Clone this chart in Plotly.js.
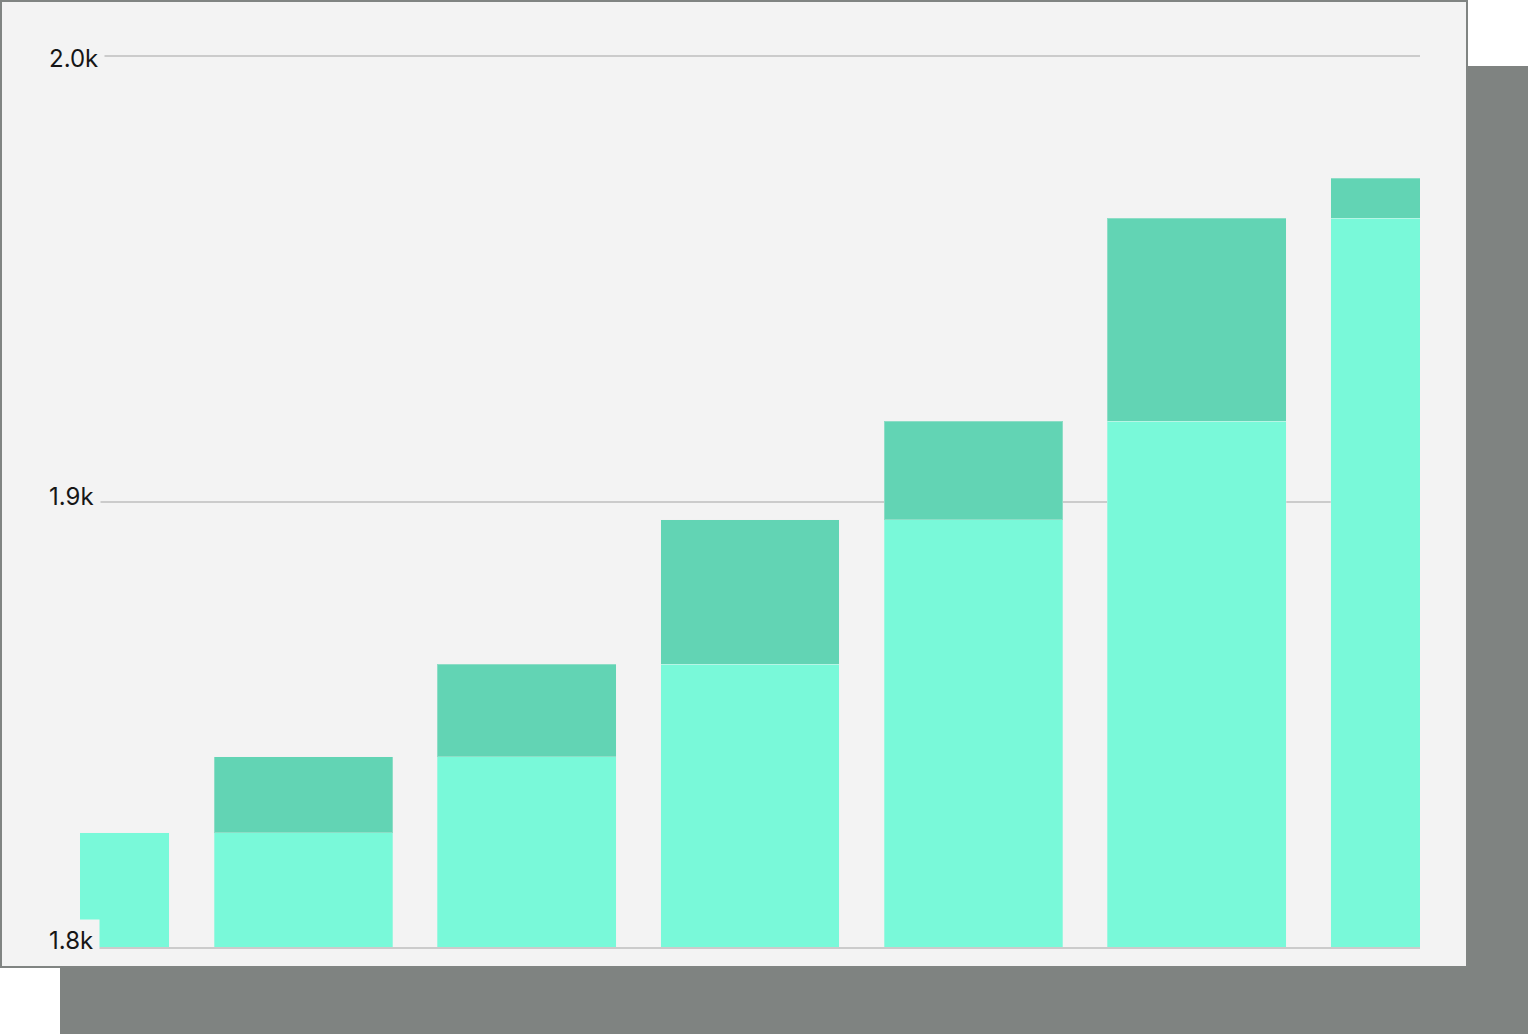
<!DOCTYPE html>
<html>
<head>
<meta charset="utf-8">
<script src="https://cdn.plot.ly/plotly-3.0.1.min.js"></script>
<style>
  html, body { margin: 0; padding: 0; background: #ffffff; }
  #panel {
    position: absolute; left: 0; top: 0;
    width: 1464px; height: 964px;
    border: 2px solid #808482;
    background: #F3F3F3;
    box-shadow: 60px 66px 0 0 #7F8381;
  }
  #chart { width: 1464px; height: 964px; }
</style>
</head>
<body>
<div id="panel"><div id="chart"></div></div>
<script>
(function () {
  'use strict';

  /* ── Data ── */
  var categories = [0, 1, 2, 3, 4, 5, 6];
  var baseValues = [1825.7, 1825.7, 1842.7, 1863.5, 1896.0, 1918.1, 1963.7];
  var stepValues = [0, 17.0, 20.8, 32.5, 22.1, 45.6, 9.0];
  var tickValues = [1800, 1900, 2000];
  var tickLabels = ['1.8k', '1.9k', '2.0k'];

  var C = {
    base: '#79F9D9',
    step: '#62D4B4',
    edge: 'rgba(243,243,243,0.3)',
    grid: '#CBCBCB',
    bg:   '#F3F3F3',
    text: '#161616',
  };

  var traces = [
    {
      type: 'bar', x: categories, y: baseValues,
      marker: { color: C.base, line: { width: 1, color: C.edge } },
      hoverinfo: 'y', showlegend: false,
    },
    {
      type: 'bar', x: categories, y: stepValues,
      marker: { color: C.step, line: { width: 1, color: C.edge } },
      hoverinfo: 'y', showlegend: false,
    },
  ];

  /* Tick labels sit on the plot with a panel-coloured box behind them */
  var yShifts = [7, 5, -2];
  var ann = tickValues.map(function (v, i) {
    return {
      xref: 'paper', yref: 'y', x: 0, y: v,
      xanchor: 'left', yanchor: 'middle',
      xshift: -38, yshift: yShifts[i],
      text: tickLabels[i], showarrow: false,
      bgcolor: C.bg, borderpad: 6,
      font: { family: 'Inter, "Open Sans", sans-serif', size: 24, color: C.text },
    };
  });

  var layout = {
    width: 1464, height: 964,
    margin: { l: 78, r: 46, t: 50, b: 19, pad: 0 },
    barmode: 'stack',
    bargap: 0.2,
    paper_bgcolor: C.bg,
    plot_bgcolor: C.bg,
    showlegend: false,
    xaxis: {
      type: 'linear',
      range: [0, 6],
      showticklabels: false, ticks: '',
      showgrid: false, zeroline: false,
      showline: true, linecolor: C.grid, linewidth: 2,
      fixedrange: true,
    },
    yaxis: {
      range: [1800, 2001],
      tickvals: tickValues,
      showticklabels: false, ticks: '',
      showgrid: true, gridcolor: C.grid, gridwidth: 2,
      zeroline: false, showline: false,
      fixedrange: true,
    },
    annotations: ann,
    font: { family: 'Inter, "Open Sans", sans-serif' },
  };

  Plotly.newPlot('chart', traces, layout, { displayModeBar: false, staticPlot: true });
})();
</script>
</body>
</html>
